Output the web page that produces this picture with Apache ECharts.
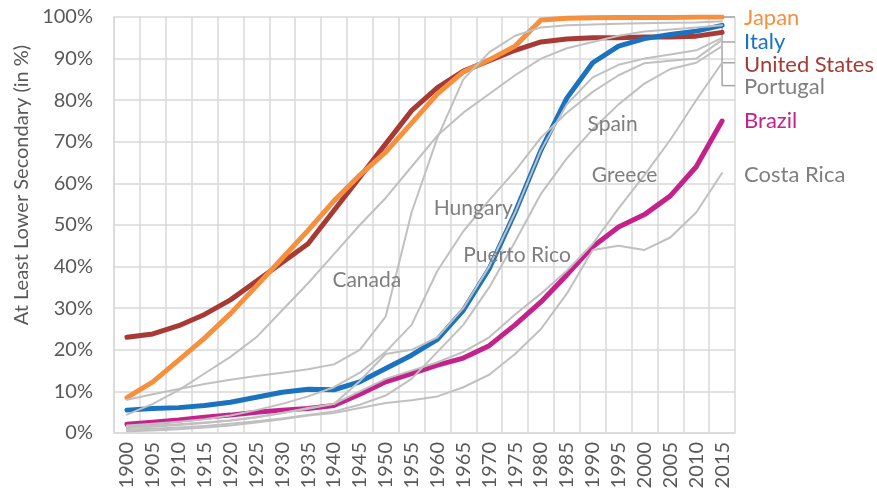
<!DOCTYPE html>
<html>
<head>
<meta charset="utf-8">
<script src="https://cdn.jsdelivr.net/npm/echarts@6/dist/echarts.min.js"></script>
<style>html,body{margin:0;padding:0;background:#fff}#c{width:877px;height:496px}</style>
</head>
<body>
<div id="c"></div>
<script>
const years = ['1900','1905','1910','1915','1920','1925','1930','1935','1940','1945','1950','1955','1960','1965','1970','1975','1980','1985','1990','1995','2000','2005','2010','2015'];
const yTicks = [0,10,20,30,40,50,60,70,80,90,100];

const japan = [8.5,12.3,17.5,22.8,28.7,35.3,42,48.7,55.8,62,67.5,74.5,81.5,86.8,89.7,93,99.3,99.7,99.8,99.9,99.9,99.9,100,100];
const italy = [5.5,5.9,6.1,6.6,7.4,8.6,9.8,10.5,10.4,12.3,15.5,18.7,22.5,29.5,39.5,53,68,80.5,89,93,94.8,95.8,96.6,98];
const unitedStates = [23,23.8,25.8,28.5,32,36.5,41,45.5,53.5,61.5,69.5,77.5,83,87,89.5,92,94,94.7,95,95,95.2,95.2,95.4,96.3];
const brazil = [2.1,2.6,3.1,3.8,4.3,5,5.5,5.9,6.6,9.3,12.3,14.3,16.3,18,21,26,31.5,38,44.8,49.5,52.5,57,64,75];
const portugal = [1.2,1.5,1.9,2.4,3,3.8,4.8,6,7,10,13,15,17,19.5,23,28.5,33.5,39,45.5,54,62,70.5,80,89];
const costaRica = [0.4,0.6,0.9,1.3,1.8,2.5,3.3,4.2,4.8,6,7.2,7.9,8.8,11,14,19,25,33.5,44,45,44,47,53,62.5];
const spain = [1.8,2.2,2.7,3.3,4.2,5.5,7,8.8,11,14.5,19.5,26,39,48.5,56,63,71,77,82,86,88.9,89.5,90,94.5];
const greece = [0.8,1,1.3,1.7,2.2,2.8,3.5,4.3,5.2,6.8,9,13,19.5,26,35,46,57.5,66,73,79,84,87.5,89,93];
const hungary = [8,9.3,10.6,11.8,12.8,13.7,14.5,15.3,16.5,20,28,53,71,85,91.5,95.5,97.5,98,98.2,98.4,98.5,98.6,98.7,99];
const puertoRico = [1.5,1.8,2.1,2.5,3,3.8,4.8,5.8,7,12.5,19,20,23,30,40,53,68,79,85.5,88.5,90,91,92,95];
const canada = [4.4,7,10.3,14.3,18.3,23,29.5,36,43,50,56.5,64,71.5,77,81.5,86,90,92.5,94,95.5,96.5,97,97.5,98];

(function () {
const FONT = 'Lato';
const GRAY = '#c0c0c0';
const LABELGRAY = '#7f7f7f';
const TEXT = '#595959';

function bold(name, data, color, off) {
  return {
    name, type: 'line', data, z: 2, symbol: 'none', silent: true,
    lineStyle: { color, width: 5, cap: 'round', join: 'round' },
    endLabel: { show: true, formatter: name, color, fontFamily: FONT, fontSize: 22, offset: off, distance: 5 }
  };
}
function thin(name, data, extra) {
  const s = {
    name, type: 'line', data, z: 3, symbol: 'none', silent: true,
    lineStyle: { color: GRAY, width: 2, cap: 'round', join: 'round' }
  };
  return Object.assign(s, extra || {});
}
function inLabel(name, cat, val, dx) {
  return { symbol: 'circle', symbolSize: 0, silent: true,
    data: [{ coord: [cat, val], label: { show: true, position: 'inside', formatter: name, color: LABELGRAY, fontFamily: FONT, fontSize: 21, offset: [dx, 0] } }] };
}

const series = [
  bold('United States', unitedStates, '#a83a36', [17, 33]),
  bold('Italy', italy, '#1b72be', [17, 17]),
  bold('Brazil', brazil, '#c4218a', [17, 0]),
  bold('Japan', japan, '#f5913e', [17, 1]),
  thin('Canada', canada, { markPoint: inLabel('Canada', '1945', 36.8, 7) }),
  thin('Hungary', hungary, { markPoint: inLabel('Hungary', '1965', 54, 10) }),
  thin('Puerto Rico', puertoRico, { markPoint: inLabel('Puerto Rico', '1975', 42.8, 2) }),
  thin('Spain', spain, { markPoint: inLabel('Spain', '1995', 74.3, -6) }),
  thin('Greece', greece, { markPoint: inLabel('Greece', '1995', 62, 6) }),
  thin('Portugal', portugal, { endLabel: { show: true, formatter: 'Portugal', color: LABELGRAY, fontFamily: FONT, fontSize: 22, offset: [17, 24], distance: 5 } }),
  thin('Costa Rica', costaRica, { endLabel: { show: true, formatter: 'Costa Rica', color: LABELGRAY, fontFamily: FONT, fontSize: 22, offset: [17, 2], distance: 5 } })
];

const chart = echarts.init(document.getElementById('c'), null, { renderer: 'canvas' });
chart.setOption({
  animation: false,
  backgroundColor: '#fff',
  grid: { left: 114, right: 142, top: 17, bottom: 63, containLabel: false },
  xAxis: {
    type: 'category', data: years, boundaryGap: true,
    axisLine: { show: true, lineStyle: { color: '#d9d9d9', width: 1.5 } },
    axisTick: { show: false },
    splitLine: { show: true, interval: 0, lineStyle: { color: '#d9d9d9', width: 1.5 } },
    axisLabel: { interval: 0, rotate: 90, color: TEXT, fontFamily: FONT, fontSize: 20, margin: 9 }
  },
  yAxis: {
    type: 'value', min: yTicks[0], max: yTicks[yTicks.length - 1], interval: 10,
    name: 'At Least Lower Secondary (in %)', nameLocation: 'middle', nameGap: 80,
    nameTextStyle: { color: TEXT, fontFamily: FONT, fontSize: 20, padding: [0, 0, 0, 80] },
    axisLine: { show: true, lineStyle: { color: '#d9d9d9', width: 1.5 } },
    axisTick: { show: false },
    splitLine: { show: true, lineStyle: { color: '#d9d9d9', width: 1.5 } },
    axisLabel: { color: TEXT, fontFamily: FONT, fontSize: 20, margin: 21, formatter: '{value}%' }
  },
  series
});

// leader lines from the series ends to the right-hand labels, placed through the chart's scales
const lastCat = years[years.length - 1];
const P = v => chart.convertToPixel({ gridIndex: 0 }, [lastCat, v]);
const rect = chart.getModel().getComponent('grid', 0).coordinateSystem.getRect();
const gx = rect.x + rect.width;
const startPt = P(italy[italy.length - 1]);
const levels = [100, 94, 89, 83.5];
const g = [];
const endPt = P(levels[3]);
g.push({ type: 'line', z: 1, shape: { x1: startPt[0], y1: startPt[1], x2: endPt[0], y2: endPt[1] }, style: { stroke: '#a6a6a6', lineWidth: 1.5 } });
levels.forEach(v => {
  const p = P(v);
  g.push({ type: 'line', z: 1, shape: { x1: p[0], y1: p[1], x2: gx, y2: p[1] }, style: { stroke: '#a6a6a6', lineWidth: 1.5 } });
});
chart.setOption({ graphic: g });
})();
</script>
</body>
</html>
